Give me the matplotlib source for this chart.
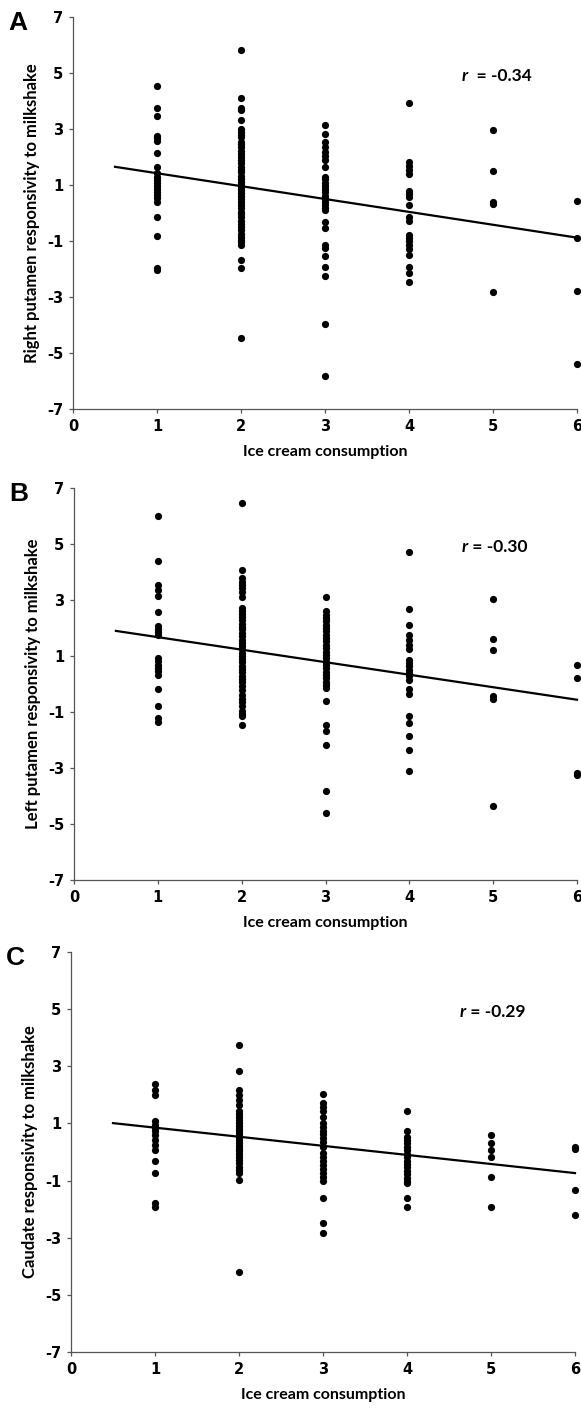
#!/usr/bin/env python3
"""Ice cream consumption vs. striatal responsivity to milkshake (3 panels)."""

import matplotlib
matplotlib.use("Agg")

import matplotlib.pyplot as plt
import numpy as np

plt.rcParams["axes.unicode_minus"] = False

# ── Data ───────────────────────────────────────────────────────────────

CONSUMPTION = [1, 2, 3, 4, 5, 6]

RIGHT_PUTAMEN = [
    [4.54, 3.76, 3.45, 2.76, 2.69, 2.57, 2.13, 1.65, 1.42, 1.30, 1.18, 1.06,
     0.95, 0.86, 0.76, 0.64, 0.52, 0.40, -0.13, -0.83, -1.95, -2.02],
    [5.82, 4.10, 3.76, 3.68, 3.32, 3.00, 2.90, 2.78, 2.70, 2.55, 2.45, 2.35,
     2.22, 2.10, 2.00, 1.90, 1.78, 1.65, 1.55, 1.45, 1.32, 1.20, 1.10, 1.00,
     0.92, 0.82, 0.70, 0.60, 0.50, 0.38, 0.28, 0.18, 0.05, -0.05, -0.15,
     -0.28, -0.40, -0.50, -0.62, -0.75, -0.85, -0.95, -1.05, -1.14, -1.68,
     -1.98, -4.45],
    [3.14, 2.82, 2.55, 2.37, 2.19, 2.05, 1.89, 1.65, 1.30, 1.20, 1.08, 0.98,
     0.86, 0.75, 0.62, 0.50, 0.40, 0.28, 0.17, 0.11, -0.31, -0.55, -1.14,
     -1.26, -1.54, -1.92, -2.25, -3.96, -5.81],
    [3.93, 1.83, 1.69, 1.54, 1.39, 0.80, 0.68, 0.58, 0.29, -0.15, -0.27,
     -0.79, -0.89, -0.99, -1.14, -1.30, -1.50, -1.92, -2.15, -2.45],
    [2.95, 1.49, 0.40, 0.31, -2.83],
    [0.42, -0.88, -2.79, -5.40],
]

LEFT_PUTAMEN = [
    [6.01, 4.38, 3.54, 3.37, 3.16, 2.56, 2.08, 1.96, 1.84, 1.76, 0.93, 0.81,
     0.69, 0.57, 0.46, 0.31, -0.17, -0.78, -1.22, -1.37],
    [6.46, 4.06, 3.78, 3.66, 3.55, 3.42, 3.30, 3.12, 2.71, 2.60, 2.50, 2.40,
     2.28, 2.16, 2.05, 1.95, 1.82, 1.70, 1.58, 1.48, 1.36, 1.25, 1.12, 1.00,
     0.90, 0.78, 0.66, 0.55, 0.42, 0.30, 0.18, 0.06, -0.06, -0.21, -0.38,
     -0.52, -0.66, -0.80, -0.95, -1.08, -1.16, -1.46],
    [3.12, 2.59, 2.48, 2.36, 2.25, 2.12, 2.00, 1.88, 1.76, 1.64, 1.52, 1.40,
     1.28, 1.16, 1.04, 0.92, 0.80, 0.68, 0.56, 0.44, 0.32, 0.20, 0.08, -0.03,
     -0.15, -0.59, -1.46, -1.69, -2.19, -3.83, -4.61],
    [4.73, 2.69, 2.12, 1.76, 1.58, 1.40, 1.25, 0.87, 0.75, 0.63, 0.51, 0.39,
     0.27, 0.15, -0.18, -0.36, -1.16, -1.40, -1.85, -2.35, -3.09],
    [3.04, 1.60, 1.22, -0.44, -0.52, -4.35],
    [0.69, 0.23, -3.18, -3.24],
]

CAUDATE = [
    [2.37, 2.18, 2.00, 1.07, 0.95, 0.83, 0.72, 0.60, 0.43, 0.25, 0.08, -0.33,
     -0.72, -1.79, -1.94],
    [3.75, 2.84, 2.18, 2.00, 1.83, 1.65, 1.42, 1.32, 1.22, 1.12, 1.02, 0.92,
     0.82, 0.72, 0.62, 0.52, 0.42, 0.32, 0.22, 0.12, 0.02, -0.08, -0.18,
     -0.28, -0.40, -0.52, -0.64, -0.74, -0.98, -4.21],
    [2.04, 1.71, 1.59, 1.42, 1.24, 1.01, 0.88, 0.75, 0.62, 0.48, 0.34, 0.19,
     -0.04, -0.18, -0.32, -0.46, -0.60, -0.75, -0.89, -1.03, -1.62, -2.49,
     -2.82],
    [1.45, 0.74, 0.54, 0.42, 0.30, 0.18, 0.06, -0.06, -0.18, -0.30, -0.42,
     -0.54, -0.66, -0.78, -0.90, -1.02, -1.07, -1.62, -1.91],
    [0.60, 0.33, 0.08, -0.16, -0.88, -1.91],
    [0.19, 0.10, -1.32, -2.20],
]

PANELS = ["A", "B", "C"]
Y_LABELS = [
    "Right putamen responsivity to milkshake",
    "Left putamen responsivity to milkshake",
    "Caudate responsivity to milkshake",
]
R_VALUES = ["  = -0.34", " = -0.30", " = -0.29"]
# fitted line as (intercept, slope), drawn from x = 0.5 to x = 6
FITS = [(1.88, -0.460), (2.12, -0.447), (1.17, -0.318)]

X_TICKS = [0, 1, 2, 3, 4, 5, 6]
Y_TICKS = [-7, -5, -3, -1, 1, 3, 5, 7]

# ── Layout (pixel boxes of each plot area: left, top, right, bottom) ──

W, H = 581, 1408
BOXES = [(73, 17, 577, 409), (74, 488, 577, 880), (71, 952, 575, 1352)]

LABEL_FONT = "Lato"
AXIS_GREY = "#555555"


def add_axes(fig, box):
    l, t, r, b = box
    return fig.add_axes([l / W, 1 - b / H, (r - l) / W, (b - t) / H])


def plot_panel(ax, values, letter, ylabel, rtext, fit):
    for x, ys in zip(CONSUMPTION, values):
        ax.plot(np.full(len(ys), x), ys, "o", color="black", markersize=5.2,
                markeredgewidth=0, clip_on=False)

    a, b = fit
    xs = np.array([0.5, 6.0])
    ax.plot(xs, a + b * xs, color="black", linewidth=1.6, clip_on=False)

    ax.set_xlim(0, 6)
    ax.set_ylim(-7, 7)
    ax.set_xticks(X_TICKS)
    ax.set_yticks(Y_TICKS)
    for lab in ax.get_xticklabels() + ax.get_yticklabels():
        lab.set_fontweight("bold")
        lab.set_fontsize(10.5)
        lab.set_family("DejaVu Sans")

    for side in ("top", "right"):
        ax.spines[side].set_visible(False)
    for side in ("left", "bottom"):
        ax.spines[side].set_color(AXIS_GREY)
        ax.spines[side].set_linewidth(0.9)
    ax.tick_params(direction="out", length=3, width=0.9, color=AXIS_GREY,
                   pad=4)

    ax.set_xlabel("Ice cream consumption", fontsize=11.5, fontweight="bold",
                  family=LABEL_FONT, labelpad=8)
    ax.set_ylabel(ylabel, fontsize=12, fontweight="bold", family=LABEL_FONT,
                  labelpad=5)

    ax.text(4.70, 4.9, "r", fontsize=12.5, fontweight="bold", style="italic",
            family=LABEL_FONT, ha="right", va="center")
    ax.text(4.70, 4.9, rtext, fontsize=12.5, fontweight="bold",
            family=LABEL_FONT, ha="left", va="center")

    ax.text(-0.11, 0.985, letter, transform=ax.transAxes, fontsize=19,
            fontweight="bold", family="Liberation Sans", ha="center",
            va="center")


def main():
    fig = plt.figure(figsize=(W / 100, H / 100), dpi=100)
    datasets = [RIGHT_PUTAMEN, LEFT_PUTAMEN, CAUDATE]
    for box, values, letter, ylabel, rtext, fit in zip(
            BOXES, datasets, PANELS, Y_LABELS, R_VALUES, FITS):
        ax = add_axes(fig, box)
        plot_panel(ax, values, letter, ylabel, rtext, fit)
    fig.savefig("out.png", dpi=100)


if __name__ == "__main__":
    main()
